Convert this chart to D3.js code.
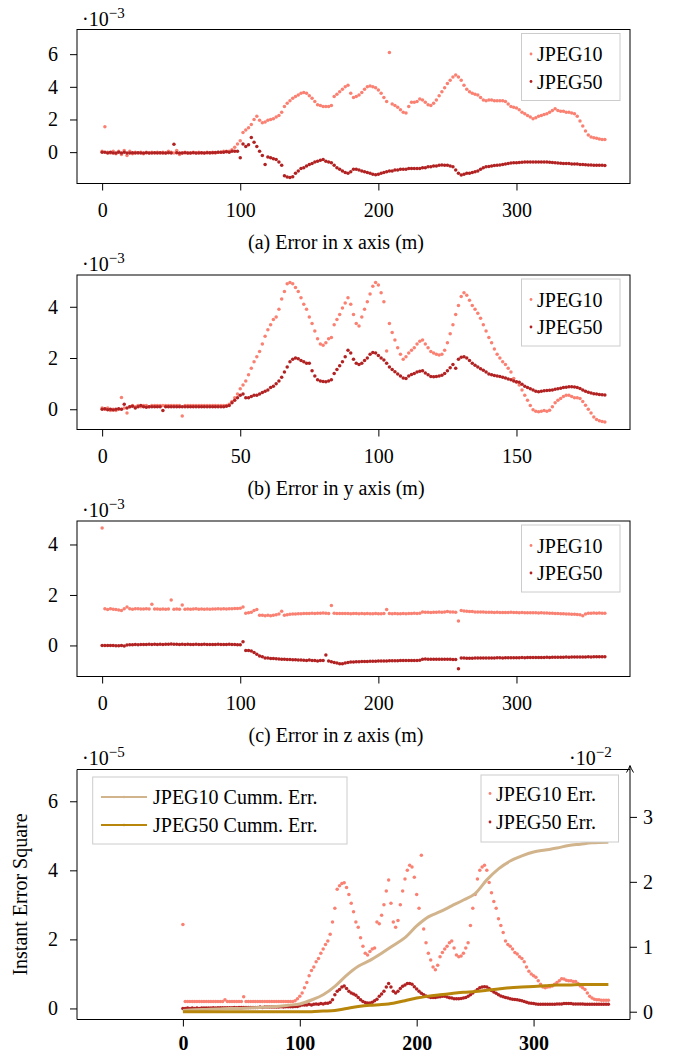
<!DOCTYPE html>
<html>
<head>
<meta charset="utf-8">
<script src="https://cdn.jsdelivr.net/npm/d3@7"></script>
<style>
body { margin: 0; background: #fff; }
svg { display: block; font-family: "Liberation Serif", "Times New Roman", serif; }
</style>
</head>
<body>
<svg id="chart"></svg>
<script>
// ---- Data ----
// panels (a), (c), (d): samples every 2 m, 0..364
let xLong = d3.range(0, 365, 2);
// panel (b): samples every 1 m, 0..182
let xShort = d3.range(0, 183, 1);
// cumulative curves in panel (d)
let xCumm = [0, 10, 20, 30, 40, 50, 60, 70, 80, 90, 100, 110, 120, 130, 140, 150, 160, 170,
  180, 190, 200, 210, 220, 230, 240, 250, 260, 270, 280, 290, 300, 310, 320, 330, 340, 350, 364];

// (a) error in x axis, units 1e-3
let errX10 = [
  0.05, 1.55, 0.0, -0.05, 0.05, -0.1, 0.05, -0.15, 0.1, -0.2,
  0.05, -0.1, 0.0, -0.05, 0.0, -0.1, 0.0, -0.05, 0.0, -0.05,
  0.0, -0.05, 0.0, -0.05, 0.05, 0.0, -0.05, 0.1, -0.15, -0.05,
  0.0, -0.05, -0.05, 0.0, -0.05, 0.0, -0.05, -0.05, 0.0, -0.05,
  0.0, -0.05, 0.0, 0.0, 0.05, 0.05, 0.05, 0.15, 0.3, 0.5,
  0.7, 1.2, 1.35, 1.5, 1.7, 2.0, 2.2, 1.95, 1.8, 1.85,
  1.95, 2.0, 2.05, 2.15, 2.25, 2.45, 2.8, 3.0, 3.15, 3.3,
  3.4, 3.5, 3.6, 3.65, 3.6, 3.45, 3.3, 3.1, 2.9, 2.85,
  2.8, 2.8, 2.8, 2.85, 3.4, 3.55, 3.7, 3.85, 4.0, 4.1,
  3.6, 3.35, 3.4, 3.5, 3.65, 3.85, 4.0, 4.05, 4.0, 3.95,
  3.8, 3.6, 3.35, 3.1, 6.1, 2.95, 2.85, 2.75, 2.6, 2.45,
  2.4, 2.8, 3.05, 3.05, 3.1, 3.25, 3.2, 3.05, 2.9, 2.85,
  3.0, 3.2, 3.45, 3.7, 3.95, 4.2, 4.4, 4.6, 4.73, 4.6,
  4.4, 4.1, 3.85, 3.7, 3.6, 3.55, 3.5, 3.35, 3.2, 3.15,
  3.2, 3.2, 3.15, 3.15, 3.15, 3.15, 3.1, 2.95, 2.8, 2.75,
  2.7, 2.6, 2.45, 2.35, 2.25, 2.15, 2.05, 2.1, 2.2, 2.25,
  2.3, 2.35, 2.45, 2.55, 2.65, 2.55, 2.5, 2.5, 2.45, 2.45,
  2.4, 2.35, 2.2, 1.9, 1.6, 1.3, 1.05, 0.92, 0.88, 0.85,
  0.8, 0.78, 0.78
];
let errX50 = [
  0.0, 0.0, -0.05, 0.0, -0.05, -0.05, 0.0, -0.05, 0.0, -0.05,
  -0.05, -0.03, -0.05, -0.03, -0.05, -0.05, -0.03, -0.05, -0.05, -0.03,
  -0.05, -0.03, -0.05, -0.05, -0.03, -0.05, 0.48, -0.03, -0.05, -0.05,
  -0.03, -0.05, -0.05, -0.03, -0.05, -0.05, -0.03, -0.05, -0.03, -0.03,
  -0.03, -0.02, 0.0, 0.0, 0.0, 0.02, 0.0, 0.05, 0.05, 0.05,
  -0.35, 0.5, 0.35, 0.45, 0.9, 0.6, 0.35, 0.05, -0.2, -0.75,
  -0.3, -0.35, -0.4, -0.45, -0.6, -0.8, -1.45, -1.52, -1.55, -1.5,
  -1.3, -1.15, -1.0, -0.95, -0.85, -0.75, -0.7, -0.6, -0.55, -0.5,
  -0.45, -0.55, -0.6, -0.65, -0.8, -0.95, -1.05, -1.15, -1.25, -1.3,
  -1.2, -1.05, -1.05, -1.1, -1.15, -1.2, -1.25, -1.3, -1.35, -1.38,
  -1.35, -1.3, -1.25, -1.2, -1.15, -1.15, -1.1, -1.1, -1.05, -1.05,
  -1.05, -1.0, -1.0, -1.0, -1.0, -1.0, -0.95, -0.95, -0.9, -0.9,
  -0.85, -0.85, -0.8, -0.78, -0.8, -0.8, -0.85, -0.9, -1.1, -1.3,
  -1.4, -1.35, -1.3, -1.3, -1.25, -1.2, -1.15, -1.05, -0.95, -0.9,
  -0.88, -0.85, -0.82, -0.8, -0.78, -0.75, -0.72, -0.7, -0.67, -0.65,
  -0.65, -0.63, -0.62, -0.6, -0.6, -0.6, -0.6, -0.6, -0.6, -0.6,
  -0.6, -0.6, -0.62, -0.63, -0.65, -0.67, -0.68, -0.7, -0.7, -0.7,
  -0.72, -0.72, -0.73, -0.75, -0.76, -0.77, -0.78, -0.78, -0.8, -0.8,
  -0.8, -0.8, -0.82
];

// (b) error in y axis, units 1e-3
let errY10 = [
  0.05, 0.0, 0.05, -0.05, 0.0, -0.05, 0.0, 0.46, 0.05, -0.15,
  0.1, 0.15, 0.1, 0.15, 0.1, 0.15, 0.15, 0.1, 0.15, 0.15,
  0.15, 0.15, 0.15, 0.15, 0.15, 0.15, 0.15, 0.15, 0.15, -0.26,
  0.15, 0.15, 0.15, 0.15, 0.15, 0.15, 0.15, 0.15, 0.15, 0.15,
  0.15, 0.15, 0.15, 0.15, 0.15, 0.15, 0.2, 0.3, 0.45, 0.6,
  0.8, 0.95, 1.1, 1.35, 1.6, 1.85, 2.05, 2.25, 2.55, 2.85,
  3.1, 3.3, 3.5, 3.6, 3.9, 4.3, 4.6, 4.9, 4.95, 4.9,
  4.75, 4.6, 4.35, 4.1, 3.9, 3.6, 3.35, 3.05, 2.75, 2.55,
  2.5, 2.6, 2.75, 2.8, 3.3, 3.5, 3.7, 3.95, 4.15, 4.35,
  4.1, 3.7, 3.35, 3.25, 3.6, 3.9, 4.2, 4.5, 4.8, 4.95,
  4.85, 4.55, 4.2, 2.27, 3.35, 3.0, 2.7, 2.4, 2.15, 1.95,
  2.05, 2.2, 2.3, 2.4, 2.55, 2.65, 2.7, 2.55, 2.4, 2.25,
  2.2, 2.15, 2.12, 2.15, 2.3, 2.6, 2.95, 3.3, 3.7, 4.05,
  4.4, 4.55, 4.45, 4.25, 4.05, 3.9, 3.75, 3.55, 3.3, 3.05,
  2.8, 2.6, 2.35, 2.15, 2.0, 1.85, 1.75, 1.6, 1.45, 1.2,
  1.05, 0.95, 0.75, 0.55, 0.35, 0.15, -0.02, -0.08, -0.1, -0.08,
  -0.05, -0.08, -0.04, 0.1, 0.25, 0.35, 0.42, 0.5, 0.55, 0.55,
  0.5, 0.45, 0.45, 0.42, 0.3, 0.16, 0.0, -0.15, -0.3, -0.4,
  -0.45, -0.48, -0.5
];
let errY50 = [
  0.0, 0.02, -0.02, 0.0, -0.03, 0.0, 0.02, 0.0, 0.2, 0.05,
  0.1, 0.12, 0.05, 0.1, 0.15, 0.1, 0.08, 0.1, 0.1, 0.1,
  0.1, 0.1, -0.05, 0.1, 0.1, 0.1, 0.1, 0.1, 0.1, 0.1,
  0.1, 0.1, 0.1, 0.1, 0.1, 0.1, 0.1, 0.1, 0.1, 0.1,
  0.1, 0.1, 0.1, 0.1, 0.1, 0.12, 0.15, 0.25, 0.35, 0.45,
  0.55, 0.6, 0.45, 0.45, 0.5, 0.55, 0.55, 0.6, 0.65, 0.7,
  0.75, 0.85, 0.9, 1.0, 1.1, 1.25, 1.45, 1.65, 1.85, 1.95,
  2.0, 1.97, 1.9, 1.85, 1.8, 1.8, 1.5, 1.3, 1.15, 1.1,
  1.08, 1.07, 1.1, 1.15, 1.4, 1.55, 1.7, 1.85, 2.05, 2.3,
  2.2, 1.95, 1.8, 1.75, 1.8, 1.9, 2.0, 2.15, 2.22, 2.2,
  2.1, 2.0, 1.92, 1.8, 1.65, 1.55, 1.46, 1.38, 1.3, 1.22,
  1.2, 1.3, 1.36, 1.4, 1.45, 1.48, 1.5, 1.42, 1.35, 1.28,
  1.27, 1.28, 1.3, 1.33, 1.4, 1.5, 1.62, 1.75, 1.6, 1.95,
  2.03, 2.05, 2.0, 1.9, 1.8, 1.72, 1.65, 1.58, 1.52, 1.45,
  1.38, 1.35, 1.32, 1.3, 1.28, 1.25, 1.22, 1.18, 1.15, 1.1,
  1.07, 1.05, 0.98, 0.9, 0.85, 0.8, 0.75, 0.7, 0.68, 0.7,
  0.72, 0.73, 0.74, 0.75, 0.78, 0.8, 0.82, 0.85, 0.86, 0.88,
  0.88, 0.87, 0.85, 0.81, 0.75, 0.7, 0.66, 0.63, 0.61, 0.6,
  0.58, 0.57, 0.56
];

// (c) error in z axis, units 1e-3
let errZ10 = [
  4.65, 1.45, 1.42, 1.45, 1.43, 1.42, 1.4, 1.38, 1.45, 1.52,
  1.45, 1.43, 1.45, 1.45, 1.44, 1.44, 1.45, 1.44, 1.63, 1.44,
  1.44, 1.43, 1.44, 1.43, 1.44, 1.8, 1.43, 1.44, 1.43, 1.6,
  1.43, 1.44, 1.43, 1.44, 1.45, 1.43, 1.44, 1.43, 1.44, 1.43,
  1.44, 1.44, 1.45, 1.44, 1.45, 1.44, 1.45, 1.45, 1.46, 1.46,
  1.47, 1.52, 1.28, 1.3, 1.32, 1.38, 1.42, 1.2, 1.2, 1.18,
  1.2, 1.18, 1.2, 1.22, 1.25, 1.35, 1.2, 1.22, 1.24, 1.25,
  1.25, 1.26, 1.26, 1.27, 1.27, 1.27, 1.28, 1.27, 1.28, 1.28,
  1.29, 1.28, 1.27, 1.58, 1.28, 1.27, 1.27, 1.27, 1.27, 1.27,
  1.26, 1.27, 1.27, 1.26, 1.27, 1.26, 1.27, 1.26, 1.26, 1.27,
  1.26, 1.26, 1.27, 1.42, 1.27, 1.26, 1.27, 1.26, 1.26, 1.27,
  1.26, 1.27, 1.27, 1.28, 1.27, 1.28, 1.33, 1.32, 1.32, 1.31,
  1.32, 1.32, 1.33, 1.32, 1.33, 1.34, 1.33, 1.33, 1.32, 0.97,
  1.38, 1.36, 1.35, 1.34, 1.34, 1.33, 1.33, 1.33, 1.33, 1.32,
  1.32, 1.32, 1.31, 1.32, 1.31, 1.31, 1.31, 1.31, 1.32, 1.31,
  1.31, 1.3, 1.31, 1.3, 1.3, 1.3, 1.3, 1.3, 1.29, 1.3,
  1.29, 1.29, 1.28, 1.28, 1.27, 1.27, 1.26, 1.26, 1.25, 1.25,
  1.24, 1.24, 1.23, 1.22, 1.18, 1.25, 1.28, 1.28, 1.29, 1.28,
  1.29, 1.28, 1.28
];
let errZ50 = [
  0.0, 0.0, 0.0, 0.0, 0.0, -0.01, -0.01, 0.0, -0.02, 0.02,
  0.03, 0.03, 0.04, 0.03, 0.04, 0.04, 0.04, 0.05, 0.04, 0.05,
  0.04, 0.05, 0.04, 0.05, 0.05, 0.06, 0.05, 0.05, 0.04, 0.05,
  0.04, 0.05, 0.04, 0.04, 0.05, 0.04, 0.04, 0.05, 0.04, 0.04,
  0.04, 0.04, 0.05, 0.04, 0.04, 0.04, 0.05, 0.04, 0.04, 0.03,
  0.03, 0.15, -0.2, -0.2, -0.22, -0.28, -0.35, -0.42, -0.45, -0.5,
  -0.5, -0.52, -0.52, -0.53, -0.54, -0.55, -0.55, -0.56, -0.56, -0.57,
  -0.57, -0.58, -0.58, -0.59, -0.6, -0.58, -0.6, -0.6, -0.62, -0.6,
  -0.6, -0.38, -0.62, -0.65, -0.68, -0.7, -0.72, -0.72, -0.7, -0.68,
  -0.66, -0.66, -0.65, -0.65, -0.64, -0.64, -0.64, -0.63, -0.63, -0.63,
  -0.62, -0.62, -0.62, -0.62, -0.61, -0.61, -0.61, -0.61, -0.6, -0.6,
  -0.6, -0.6, -0.6, -0.6, -0.6, -0.59, -0.55, -0.54, -0.55, -0.55,
  -0.55, -0.55, -0.55, -0.55, -0.55, -0.55, -0.55, -0.56, -0.56, -0.92,
  -0.5, -0.5, -0.51, -0.51, -0.51, -0.5, -0.5, -0.5, -0.5, -0.5,
  -0.5, -0.5, -0.5, -0.49, -0.49, -0.5, -0.49, -0.49, -0.49, -0.49,
  -0.49, -0.49, -0.48, -0.49, -0.48, -0.48, -0.48, -0.48, -0.48, -0.48,
  -0.48, -0.47, -0.48, -0.47, -0.47, -0.47, -0.47, -0.47, -0.46, -0.47,
  -0.46, -0.46, -0.46, -0.46, -0.46, -0.46, -0.45, -0.46, -0.45, -0.45,
  -0.45, -0.45, -0.45
];

// (d) instant error square, units 1e-5
let instErr10 = [
  2.43, 0.2, 0.2, 0.2, 0.2, 0.2, 0.2, 0.2, 0.2, 0.2,
  0.2, 0.2, 0.2, 0.2, 0.2, 0.2, 0.2, 0.2, 0.25, 0.2,
  0.2, 0.2, 0.2, 0.2, 0.2, 0.2, 0.34, 0.2, 0.2, 0.2,
  0.2, 0.2, 0.2, 0.2, 0.2, 0.2, 0.2, 0.2, 0.2, 0.2,
  0.2, 0.2, 0.2, 0.2, 0.2, 0.2, 0.2, 0.2, 0.22, 0.28,
  0.35, 0.45, 0.6, 0.75, 0.95, 1.1, 1.2, 1.35, 1.45, 1.6,
  1.72, 1.85, 1.95, 2.15, 2.5, 2.9, 3.45, 3.55, 3.62, 3.64,
  3.5, 3.3, 3.05, 2.8, 2.5, 2.35, 2.05, 1.8, 1.6, 1.55,
  1.65, 1.72, 1.75, 2.5, 2.45, 2.7, 3.0, 3.4, 3.72, 3.05,
  2.5, 2.35, 2.55, 3.0, 3.4, 3.75, 4.0, 4.15, 4.1, 3.8,
  3.3, 2.9, 4.44, 2.3, 1.9, 1.6, 1.4, 1.2, 1.12, 1.25,
  1.5, 1.62, 1.72, 1.8, 1.9, 1.95, 1.75, 1.55, 1.5, 1.52,
  1.6, 1.75, 1.9, 2.4, 2.9, 3.3, 3.75, 4.0, 4.1, 4.15,
  4.0, 3.65, 3.35, 3.1, 2.9, 2.6, 2.4, 2.2, 1.95, 1.85,
  1.8, 1.72, 1.62, 1.58, 1.5, 1.45, 1.35, 1.2, 1.08, 1.0,
  0.95, 0.9, 0.8, 0.7, 0.62, 0.6, 0.62, 0.63, 0.65, 0.7,
  0.75, 0.8, 0.86, 0.85, 0.82, 0.8, 0.8, 0.78, 0.78, 0.72,
  0.65, 0.6, 0.55, 0.45, 0.35, 0.3, 0.27, 0.25, 0.25, 0.24,
  0.24, 0.24, 0.24
];
let instErr50 = [
  0.0, 0.0, 0.01, 0.0, 0.01, 0.0, 0.01, 0.0, 0.01, 0.01,
  0.01, 0.01, 0.01, 0.02, 0.01, 0.02, 0.02, 0.02, 0.02, 0.02,
  0.02, 0.02, 0.03, 0.02, 0.03, 0.03, 0.03, 0.03, 0.03, 0.03,
  0.03, 0.03, 0.03, 0.04, 0.03, 0.04, 0.04, 0.04, 0.04, 0.04,
  0.04, 0.04, 0.05, 0.04, 0.05, 0.05, 0.05, 0.05, 0.06, 0.06,
  0.08, 0.1, 0.1, 0.1, 0.12, 0.1, 0.12, 0.13, 0.12, 0.14,
  0.13, 0.15, 0.15, 0.18, 0.25, 0.4, 0.5, 0.55, 0.62, 0.65,
  0.58, 0.5, 0.45, 0.42, 0.38, 0.32, 0.25, 0.2, 0.17, 0.16,
  0.16, 0.18, 0.22, 0.27, 0.35, 0.42, 0.5, 0.62, 0.72, 0.62,
  0.5, 0.45, 0.5, 0.58, 0.64, 0.68, 0.72, 0.72, 0.7, 0.63,
  0.56, 0.5, 0.44, 0.4, 0.36, 0.34, 0.32, 0.32, 0.32, 0.33,
  0.34, 0.35, 0.35, 0.33, 0.31, 0.3, 0.28, 0.28, 0.28, 0.29,
  0.3, 0.32, 0.35, 0.4, 0.45, 0.5, 0.55, 0.6, 0.62, 0.63,
  0.62, 0.58, 0.52, 0.48, 0.44, 0.4, 0.36, 0.34, 0.32, 0.3,
  0.28, 0.27, 0.26, 0.25, 0.24, 0.22, 0.2, 0.18, 0.16, 0.15,
  0.14, 0.13, 0.12, 0.12, 0.12, 0.12, 0.12, 0.12, 0.12, 0.12,
  0.13, 0.13, 0.13, 0.14, 0.14, 0.14, 0.14, 0.13, 0.13, 0.13,
  0.13, 0.13, 0.12, 0.12, 0.12, 0.12, 0.12, 0.12, 0.12, 0.12,
  0.12, 0.12, 0.12
];
// cumulative error, units 1e-2
let cumm10 = [0.02, 0.03, 0.035, 0.04, 0.05, 0.05, 0.06, 0.07, 0.08, 0.1, 0.12, 0.18, 0.26,
  0.39, 0.56, 0.7, 0.79, 0.9, 1.02, 1.14, 1.32, 1.46, 1.54, 1.63, 1.72, 1.82, 2.03, 2.2,
  2.32, 2.4, 2.46, 2.49, 2.52, 2.56, 2.58, 2.6, 2.61];
let cumm50 = [0.0, 0.0, 0.0, 0.0, 0.0, 0.0, 0.0, 0.0, 0.0, 0.0, 0.0, 0.0, 0.01,
  0.02, 0.05, 0.08, 0.1, 0.11, 0.13, 0.17, 0.21, 0.24, 0.26, 0.28, 0.3, 0.31, 0.33, 0.35,
  0.37, 0.38, 0.39, 0.4, 0.41, 0.41, 0.42, 0.42, 0.42];

// ---- Setup ----
let width = 673, height = 1055;
let fontSize = 20;
let boxLeft = 77, boxRight = 630;
let col10 = '#fa8072', col50 = '#b22222';
let colC10 = '#d2b48c', colC50 = '#b8860b';

let svg = d3.select('#chart').attr('width', width).attr('height', height);

function styleAxis(g) {
    g.select('.domain').remove();
    g.selectAll('.tick line').attr('stroke', '#000').attr('stroke-width', 1);
    g.selectAll('.tick text')
        .attr('fill', '#000')
        .style('font-family', '"Liberation Serif", "Times New Roman", serif')
        .style('font-size', fontSize + 'px');
}

// "·10^-n" factor label
function factorLabel(x, yBase, exp) {
    let t = svg.append('text').attr('x', x).attr('y', yBase)
        .style('font-size', fontSize + 'px').attr('fill', '#000');
    t.append('tspan').text('·10');
    t.append('tspan').attr('dy', -8).style('font-size', '15px').text('\u2212' + exp);
}

function legend(x0, y0, w, h, entries) {
    let g = svg.append('g');
    g.append('rect').attr('x', x0).attr('y', y0).attr('width', w).attr('height', h)
        .attr('fill', '#fff').attr('stroke', '#cccccc').attr('stroke-width', 1);
    entries.forEach((e) => {
        if (e.type === 'line') {
            g.append('line').attr('x1', e.mx - 23).attr('x2', e.mx + 23)
                .attr('y1', e.y).attr('y2', e.y)
                .attr('stroke', e.color).attr('stroke-width', 2);
            g.append('circle').attr('cx', e.mx).attr('cy', e.y).attr('r', 1.2).attr('fill', e.color);
        } else {
            g.append('circle').attr('cx', e.mx).attr('cy', e.y).attr('r', 1.4).attr('fill', e.color);
        }
        g.append('text').attr('x', e.tx).attr('y', e.y + 7)
            .style('font-size', fontSize + 'px').attr('fill', '#000').text(e.label);
    });
}

function drawDots(xs, values, x, y, color) {
    svg.append('g').selectAll('circle')
        .data(values)
        .enter()
        .append('circle')
        .attr('cx', (d, i) => x(xs[i]))
        .attr('cy', (d) => y(d))
        .attr('r', 1.75)
        .attr('fill', color);
}

// panels (a)-(c)
function drawErrorPanel(p) {
    let x = d3.scaleLinear().domain(p.xDomain).range([boxLeft, boxRight]);
    let y = d3.scaleLinear().domain(p.yDomain).range([p.bottom, p.top]);

    drawDots(p.xs, p.s10, x, y, col10);
    drawDots(p.xs, p.s50, x, y, col50);

    svg.append('rect').attr('x', boxLeft).attr('y', p.top)
        .attr('width', boxRight - boxLeft).attr('height', p.bottom - p.top)
        .attr('fill', 'none').attr('stroke', '#000').attr('stroke-width', 1);

    svg.append('g').attr('transform', `translate(0,${p.bottom})`)
        .call(d3.axisBottom(x).tickValues(p.xTicks).tickSize(7).tickPadding(12).tickFormat(d3.format('d')))
        .call(styleAxis);
    svg.append('g').attr('transform', `translate(${boxLeft},0)`)
        .call(d3.axisLeft(y).tickValues(p.yTicks).tickSize(7).tickPadding(12).tickFormat(d3.format('d')))
        .call(styleAxis);

    factorLabel(82, p.top - 4, '3');

    legend(521.5, p.top + 4, 98.5, 67, [
        { type: 'dot', label: 'JPEG10', color: col10, mx: 531, tx: 537, y: p.top + 24.5 },
        { type: 'dot', label: 'JPEG50', color: col50, mx: 531, tx: 537, y: p.top + 52 }
    ]);

    svg.append('text').attr('x', 336).attr('y', p.bottom + 65)
        .attr('text-anchor', 'middle').style('font-size', fontSize + 'px')
        .attr('fill', '#000').text(p.caption);
}

drawErrorPanel({
    top: 29.5, bottom: 183.5, xDomain: [-18.2, 382.2], yDomain: [-1.92, 7.51],
    xs: xLong, s10: errX10, s50: errX50,
    xTicks: [0, 100, 200, 300], yTicks: [0, 2, 4, 6],
    caption: '(a) Error in x axis (m)'
});
drawErrorPanel({
    top: 275, bottom: 429.5, xDomain: [-9.1, 191.1], yDomain: [-0.79, 5.24],
    xs: xShort, s10: errY10, s50: errY50,
    xTicks: [0, 50, 100, 150], yTicks: [0, 2, 4],
    caption: '(b) Error in y axis (m)'
});
drawErrorPanel({
    top: 521, bottom: 676.5, xDomain: [-18.2, 382.2], yDomain: [-1.23, 4.93],
    xs: xLong, s10: errZ10, s50: errZ50,
    xTicks: [0, 100, 200, 300], yTicks: [0, 2, 4],
    caption: '(c) Error in z axis (m)'
});

// panel (d): instant error square (left) and cumulative error (right)
function drawSquarePanel() {
    let top = 769.5, bottom = 1019.5;
    let x = d3.scaleLinear().domain([-90.6, 382.5]).range([boxLeft, boxRight]);
    let yL = d3.scaleLinear().domain([-0.32, 6.92]).range([bottom, top]);
    let yR = d3.scaleLinear().domain([-0.12, 3.73]).range([bottom, top]);

    drawDots(xLong, instErr10, x, yL, col10);
    drawDots(xLong, instErr50, x, yL, col50);

    let line = d3.line().x((d, i) => x(xCumm[i])).y((d) => yR(d)).curve(d3.curveMonotoneX);
    svg.append('path').datum(cumm10).attr('d', line)
        .attr('fill', 'none').attr('stroke', colC10).attr('stroke-width', 3);
    svg.append('path').datum(cumm50).attr('d', line)
        .attr('fill', 'none').attr('stroke', colC50).attr('stroke-width', 3);

    // frame: left, top, bottom; right side is the arrowed axis
    svg.append('path')
        .attr('d', `M${boxRight},${top}H${boxLeft}V${bottom}H${boxRight}`)
        .attr('fill', 'none').attr('stroke', '#000').attr('stroke-width', 1);
    svg.append('line').attr('x1', boxRight).attr('x2', boxRight)
        .attr('y1', bottom).attr('y2', top - 3)
        .attr('stroke', '#000').attr('stroke-width', 1);
    svg.append('path')
        .attr('d', `M${boxRight - 3.5},${top + 3}Q${boxRight - 1},${top - 1} ${boxRight},${top - 4}Q${boxRight + 1},${top - 1} ${boxRight + 3.5},${top + 3}`)
        .attr('fill', 'none').attr('stroke', '#000').attr('stroke-width', 1);

    svg.append('g').attr('transform', `translate(0,${bottom})`)
        .call(d3.axisBottom(x).tickValues([0, 100, 200, 300]).tickSize(7).tickPadding(9).tickFormat(d3.format('d')))
        .call(styleAxis)
        .selectAll('.tick text').style('font-weight', 'bold');
    svg.append('g').attr('transform', `translate(${boxLeft},0)`)
        .call(d3.axisLeft(yL).tickValues([0, 2, 4, 6]).tickSize(7).tickPadding(12).tickFormat(d3.format('d')))
        .call(styleAxis);
    svg.append('g').attr('transform', `translate(${boxRight},0)`)
        .call(d3.axisRight(yR).tickValues([0, 1, 2, 3]).tickSize(7).tickPadding(6).tickFormat(d3.format('d')))
        .call(styleAxis);

    factorLabel(82, top - 5, '5');
    factorLabel(569, top - 5, '2');

    svg.append('text')
        .attr('transform', `translate(27,${(top + bottom) / 2}) rotate(-90)`)
        .attr('text-anchor', 'middle').style('font-size', fontSize + 'px')
        .attr('fill', '#000').text('Instant Error Square');

    legend(92.7, 777, 254.3, 67, [
        { type: 'line', label: 'JPEG10 Cumm. Err.', color: colC10, mx: 124, tx: 153, y: 797 },
        { type: 'line', label: 'JPEG50 Cumm. Err.', color: colC50, mx: 124, tx: 153, y: 825 }
    ]);
    legend(481, 775, 137.5, 67, [
        { type: 'dot', label: 'JPEG10 Err.', color: col10, mx: 490, tx: 496, y: 793.5 },
        { type: 'dot', label: 'JPEG50 Err.', color: col50, mx: 490, tx: 496, y: 822 }
    ]);
}
drawSquarePanel();
</script>
</body>
</html>
